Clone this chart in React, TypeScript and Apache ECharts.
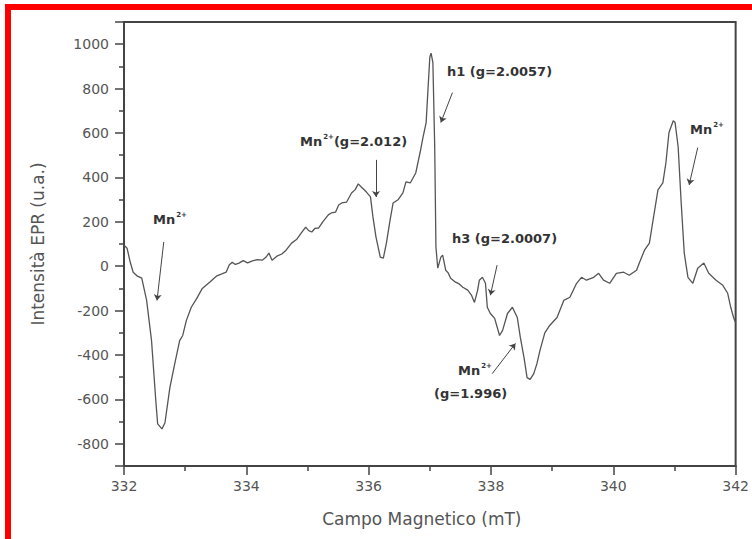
import React, { useEffect, useRef } from "react";
import * as echarts from "echarts";

const fieldMT: number[] = [
  332.0, 332.05, 332.1, 332.15, 332.22, 332.29, 332.37, 332.45, 332.52, 332.55, 332.62, 332.67, 332.75, 332.83, 332.91, 332.96,
  333.02, 333.1, 333.19, 333.28, 333.4, 333.51, 333.6, 333.67, 333.72, 333.77, 333.82, 333.88, 333.95,
  334.02, 334.09, 334.18, 334.26, 334.32, 334.37, 334.42, 334.5, 334.58, 334.65, 334.74, 334.82, 334.9, 334.97,
  335.02, 335.07, 335.12, 335.18, 335.25, 335.34, 335.39, 335.46, 335.51, 335.56, 335.64, 335.72, 335.78, 335.83, 335.88, 335.96,
  336.03, 336.07, 336.12, 336.19, 336.24, 336.29, 336.35, 336.4, 336.48, 336.56, 336.61, 336.68, 336.77, 336.84, 336.89, 336.94, 336.97,
  337.0, 337.02, 337.05, 337.08, 337.1, 337.13, 337.18, 337.21, 337.26, 337.3, 337.34, 337.42, 337.48, 337.54, 337.62, 337.68, 337.73, 337.78, 337.81, 337.86, 337.91, 337.94, 337.99,
  338.06, 338.14, 338.19, 338.27, 338.35, 338.43, 338.48, 338.54, 338.59, 338.64, 338.7, 338.75, 338.8, 338.88, 338.96,
  339.08, 339.19, 339.29, 339.4, 339.48, 339.56, 339.68, 339.76, 339.84, 339.94,
  340.05, 340.17, 340.26, 340.38, 340.43, 340.51, 340.59, 340.65, 340.73, 340.81, 340.86, 340.91, 340.98,
  341.01, 341.06, 341.11, 341.16, 341.22, 341.3, 341.38, 341.48, 341.56, 341.68, 341.79, 341.87, 341.92, 341.97, 342.0,
];

const intensity: number[] = [
  95, 81, 20, -27, -45, -54, -154, -335, -606, -710, -733, -705, -547, -439, -335, -312,
  -244, -185, -145, -100, -72, -45, -35, -27, 5, 18, 8, 14, 25,
  15, 23, 30, 27, 40, 59, 27, 45, 55, 72, 104, 120, 150, 176,
  160, 154, 170, 172, 200, 231, 240, 244, 276, 285, 289, 330, 345, 371, 357, 335,
  312, 222, 131, 41, 36, 104, 208, 285, 299, 330, 380, 375, 420, 511, 583, 647, 796,
  941, 960, 918, 538, 86, -9, 41, 50, -18, -30, -54, -72, -80, -95, -108, -130, -163, -110, -63, -50, -77, -185, -213,
  -235, -312, -289, -213, -185, -231, -321, -412, -502, -510, -484, -440, -380, -300, -267,
  -231, -154, -140, -77, -50, -63, -50, -32, -63, -77,
  -32, -27, -41, -18, 18, 72, 104, 208, 344, 375, 466, 602, 655,
  647, 538, 285, 59, -50, -77, -9, 14, -32, -63, -86, -122, -185, -235, -255,
];

// annotation arrows: [fromX, fromY, toX, toY] in data units
const arrows: number[][] = [
  [332.65, 109, 332.54, -154],
  [336.12, 479, 336.12, 312],
  [337.37, 782, 337.18, 647],
  [338.1, 5, 337.99, -131],
  [338.02, -484, 338.4, -348],
  [341.38, 534, 341.24, 366],
];

const xAxisTitle = "Campo Magnetico (mT)";
const yAxisTitle = "Intensità EPR (u.a.)";

export default function App() {
  const ref = useRef<HTMLDivElement>(null);
  useEffect(() => {
    if (!ref.current) return;
    const chart = echarts.init(ref.current, undefined, { renderer: "svg" });
    const data = fieldMT.map((x, i) => [x, intensity[i]]);
    const labelFont = "DejaVu Sans";
    const annFill = "#333";
    const rich = {
      m: { fontFamily: labelFont, fontWeight: "bold", fontSize: 13, fill: annFill },
      s: { fontFamily: labelFont, fontWeight: "bold", fontSize: 7, fill: annFill, padding: [0, 0, 10, 1] },
    };
    const ann = (left: number, top: number, text: string) => ({
      type: "text",
      left,
      top,
      style: { text, rich, fill: annFill, font: `bold 13px ${labelFont}` },
    });
    chart.setOption({
      animation: false,
      backgroundColor: "#fff",
      grid: {
        left: 124,
        right: 12,
        top: 22,
        bottom: 73,
        show: true,
        borderColor: "#444",
        borderWidth: 2,
      },
      xAxis: {
        type: "value",
        min: 332,
        max: 342,
        interval: 2,
        name: xAxisTitle,
        nameLocation: "middle",
        nameGap: 44,
        nameTextStyle: { fontFamily: labelFont, fontSize: 17, color: "#555", padding: [0, 16, 0, 0] },
        axisLine: { onZero: false, lineStyle: { color: "#444", width: 2 } },
        axisTick: { show: true, length: 9, inside: false, lineStyle: { color: "#444", width: 1.5 } },
        minorTick: { show: true, splitNumber: 2, length: 5, lineStyle: { color: "#444", width: 1.5 } },
        axisLabel: { fontFamily: labelFont, fontSize: 14, color: "#555", margin: 13 },
        splitLine: { show: false },
      },
      yAxis: {
        type: "value",
        min: -900,
        max: 1100,
        splitNumber: 10,
        name: yAxisTitle,
        nameLocation: "middle",
        nameGap: 78,
        nameRotate: 90,
        nameTextStyle: { fontFamily: labelFont, fontSize: 17, color: "#555" },
        axisLine: { onZero: false, lineStyle: { color: "#444", width: 2 } },
        axisTick: { show: true, length: 9, lineStyle: { color: "#444", width: 1.5 } },
        minorTick: { show: true, splitNumber: 2, length: 5, lineStyle: { color: "#444", width: 1.5 } },
        axisLabel: {
          fontFamily: labelFont,
          fontSize: 14,
          color: "#555",
          margin: 15,
          formatter: (v: number) => (v <= -900 || v >= 1100 ? "" : String(v)),
        },
        splitLine: { show: false },
      },
      series: [
        {
          type: "line",
          data,
          showSymbol: false,
          symbol: "none",
          lineStyle: { color: "#555", width: 1.3 },
          markLine: {
            silent: true,
            symbol: ["none", "arrow"],
            symbolSize: 6,
            label: { show: false },
            lineStyle: { color: "#444", width: 1, type: "solid" },
            data: arrows.map((a) => [{ coord: [a[0], a[1]] }, { coord: [a[2], a[3]] }]),
          },
        },
      ],
      graphic: [
        { type: "rect", left: 5, top: 4, shape: { width: 747, height: 6 }, style: { fill: "#ff0000" } },
        { type: "rect", left: 5, top: 4, shape: { width: 6, height: 535 }, style: { fill: "#ff0000" } },
        ann(153, 211, "{m|Mn}{s|2+}"),
        ann(300, 133, "{m|Mn}{s|2+}{m|(g=2.012)}"),
        ann(447, 65, "{m|h1 (g=2.0057)}"),
        ann(452, 232, "{m|h3 (g=2.0007)}"),
        ann(458, 362, "{m|Mn}{s|2+}"),
        ann(434, 387, "{m|(g=1.996)}"),
        ann(690, 121, "{m|Mn}{s|2+}"),
      ],
    });
    return () => chart.dispose();
  }, []);
  return (
    <div
      ref={ref}
      style={{ position: "fixed", left: 0, top: 0, width: 752, height: 539, background: "#fff" }}
    />
  );
}
